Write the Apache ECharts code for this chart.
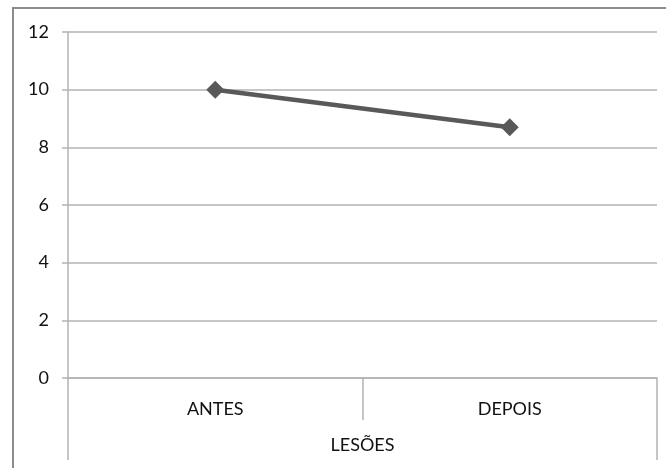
<!DOCTYPE html>
<html>
<head>
<meta charset="utf-8">
<script src="https://cdn.jsdelivr.net/npm/echarts@6/dist/echarts.min.js"></script>
<style>
  html, body { margin: 0; padding: 0; background: #fff; }
  #chart { width: 666px; height: 468px; }
</style>
</head>
<body>
<div id="chart"></div>
<script>
// Injury counts before and after
const categories = ['ANTES', 'DEPOIS'];
const groupLabel = ['LESÕES'];
const lesoes = [10, 8.7];
const yTicks = { min: 0, max: 12, step: 2 };

const FONT = 'Lato';
const GRID_GRAY = '#b3b3b3';
const TEXT = '#111';

const chart = echarts.init(document.getElementById('chart'));
chart.setOption({
  animation: false,
  backgroundColor: '#fff',
  grid: { left: 68, right: 9, top: 32, bottom: 90, containLabel: false },
  graphic: [{
    type: 'rect',
    shape: { x: 13, y: 8, width: 700, height: 500 },
    style: { fill: 'none', stroke: '#8c8c8c', lineWidth: 2 },
    silent: true
  }],
  xAxis: [{
    type: 'category',
    data: categories,
    boundaryGap: true,
    axisLine: { show: true, lineStyle: { color: GRID_GRAY, width: 1.5 } },
    axisTick: { show: true, length: 42, lineStyle: { color: GRID_GRAY, width: 1.5 } },
    axisLabel: { margin: 22, fontFamily: FONT, fontSize: 18, color: TEXT },
    splitLine: { show: false }
  }, {
    type: 'category',
    position: 'bottom',
    data: groupLabel,
    boundaryGap: true,
    axisLine: { show: false },
    axisTick: { show: true, length: 82, lineStyle: { color: GRID_GRAY, width: 1.5 } },
    axisLabel: { margin: 58, fontFamily: FONT, fontSize: 18, color: TEXT },
    splitLine: { show: false }
  }],
  yAxis: {
    type: 'value',
    min: yTicks.min,
    max: yTicks.max,
    interval: yTicks.step,
    axisLine: { show: true, lineStyle: { color: GRID_GRAY, width: 1.5 } },
    axisTick: { show: true, length: 6, lineStyle: { color: GRID_GRAY, width: 1.5 } },
    axisLabel: { margin: 19, fontFamily: FONT, fontSize: 18, color: TEXT },
    splitLine: { show: true, lineStyle: { color: GRID_GRAY, width: 1.5 } }
  },
  series: [{
    type: 'line',
    name: 'LESÕES',
    xAxisIndex: 0,
    data: lesoes,
    symbol: 'diamond',
    symbolSize: 18,
    lineStyle: { color: '#595959', width: 4.5 },
    itemStyle: { color: '#595959' }
  }]
});
</script>
</body>
</html>
